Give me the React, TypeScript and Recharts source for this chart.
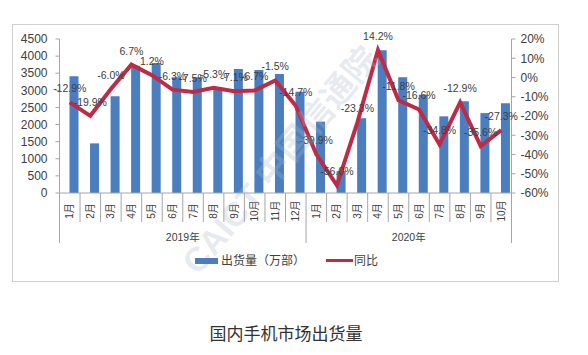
import { ComposedChart, Bar, Line, XAxis, YAxis, LabelList } from 'recharts';

// months on the category axis (2019.1 - 2020.10)
const months = [
  '1月', '2月', '3月', '4月', '5月', '6月', '7月', '8月', '9月', '10月', '11月', '12月',
  '1月', '2月', '3月', '4月', '5月', '6月', '7月', '8月', '9月', '10月',
];
const years = ['2019年', '2020年'];

// 出货量（万部）
const shipments = [
  3410, 1450, 2830, 3720, 3800, 3380, 3380, 3090, 3625, 3595, 3480, 2960,
  2085, 640, 2185, 4170, 3380, 2870, 2240, 2680, 2335, 2625,
];
// 同比 (%)
const yoy = [
  -12.9, -19.9, -6.0, 6.7, 1.2, -6.3, -7.5, -5.3, -7.1, -6.7, -1.5, -14.7,
  -39.9, -56.0, -23.3, 14.2, -11.8, -16.6, -34.8, -12.9, -35.6, -27.3,
];

const leftTicks = [0, 500, 1000, 1500, 2000, 2500, 3000, 3500, 4000, 4500];
const rightTicks = [-60, -50, -40, -30, -20, -10, 0, 10, 20];

const data = months.map((m, i) => ({ m, ship: shipments[i], yoy: yoy[i] }));

const FONT = "'Liberation Sans', Arial, 'Noto Sans CJK SC', sans-serif";
const TEXT = '#404040';
const AXIS = '#a6a6a6';
const BLUE = '#4a7ebf';
const RED = '#bf2b46';

const PLOT_L = 59.5;
const PLOT_R = 511.5;
const PLOT_B = 193;
const BW = (PLOT_R - PLOT_L) / months.length;

function MonthTick(props: { x?: number; payload?: { value: string; index: number } }) {
  const { x = 0, payload } = props;
  if (!payload) return null;
  const i = payload.index;
  const bigRight = i === 11 || i === months.length - 1;
  return (
    <g>
      <text
        x={x}
        y={211}
        transform={`rotate(-90, ${x}, 211)`}
        textAnchor="middle"
        dominantBaseline="central"
        fontSize={10}
        fontFamily={FONT}
        fill={TEXT}
      >
        {payload.value}
      </text>
      <line x1={x + BW / 2} x2={x + BW / 2} y1={PLOT_B} y2={bigRight ? 243 : 222} stroke={AXIS} />
      {i === 0 && (
        <>
          <line x1={x - BW / 2} x2={x - BW / 2} y1={PLOT_B} y2={243} stroke={AXIS} />
          <text x={x - BW / 2 + 6 * BW} y={237} textAnchor="middle" dominantBaseline="central"
            fontSize={10.5} fontFamily={FONT} fill={TEXT}>
            {years[0]}
          </text>
        </>
      )}
      {i === 12 && (
        <text x={x - BW / 2 + 5 * BW} y={237} textAnchor="middle" dominantBaseline="central"
          fontSize={10.5} fontFamily={FONT} fill={TEXT}>
          {years[1]}
        </text>
      )}
    </g>
  );
}

function PctLabel(props: { x?: number; y?: number; value?: number }) {
  const { x = 0, y = 0, value } = props;
  if (value === undefined) return null;
  return (
    <text x={x} y={y - 10} textAnchor="middle" fontSize={10.5} fontFamily={FONT} fill={TEXT}>
      {`${value.toFixed(1)}%`}
    </text>
  );
}

export default function App() {
  return (
    <div style={{ position: 'absolute', left: 0, top: 0, width: 588, height: 355, background: '#fff', fontFamily: FONT }}>
      <div
        style={{
          position: 'absolute', left: 12, top: 24, width: 547, height: 258,
          border: '1px solid #d0d0d0', boxSizing: 'border-box',
        }}
      />
      <div style={{ position: 'absolute', left: 0, top: 0 }}>
        <ComposedChart
          width={588}
          height={290}
          data={data}
          margin={{ top: 39, right: 0, bottom: 37, left: 0 }}
          barGap={0}
        >
          <XAxis
            dataKey="m"
            height={60}
            interval={0}
            axisLine={{ stroke: AXIS }}
            tickLine={false}
            tick={<MonthTick />}
          />
          <YAxis
            yAxisId="left"
            width={PLOT_L}
            domain={[0, 4500]}
            ticks={leftTicks}
            interval={0}
            axisLine={{ stroke: AXIS }}
            tickLine={{ stroke: AXIS }}
            tickSize={4}
            tickMargin={8}
            tick={{ fontSize: 12, fill: TEXT, fontFamily: FONT }}
          />
          <YAxis
            yAxisId="right"
            orientation="right"
            width={588 - PLOT_R}
            domain={[-60, 20]}
            ticks={rightTicks}
            interval={0}
            tickFormatter={(v: number) => `${v}%`}
            axisLine={{ stroke: AXIS }}
            tickLine={{ stroke: AXIS }}
            tickSize={4}
            tickMargin={5}
            tick={{ fontSize: 12, fill: TEXT, fontFamily: FONT, textAnchor: 'start' }}
          />
          {/* empty bar so the real bar sits a bit right of the category centre, as in the source */}
          <Bar dataKey="pad" yAxisId="left" barSize={9} fill="none" legendType="none" isAnimationActive={false} />
          <Bar dataKey="ship" yAxisId="left" name="出货量（万部）" barSize={9} fill={BLUE} isAnimationActive={false} />
          <Line
            dataKey="yoy"
            yAxisId="right"
            name="同比"
            stroke={RED}
            strokeWidth={4}
            dot={false}
            isAnimationActive={false}
          >
            <LabelList dataKey="yoy" content={<PctLabel />} />
          </Line>
        </ComposedChart>
      </div>

      {/* watermark */}
      <svg width={588} height={355} style={{ position: 'absolute', left: 0, top: 0, pointerEvents: 'none' }}>
        <text
          x={280}
          y={160}
          transform="rotate(-50, 280, 160)"
          textAnchor="middle"
          dominantBaseline="central"
          fontSize={34}
          fontWeight="bold"
          fontFamily={FONT}
          fill="rgba(170,185,200,0.28)"
        >
          CAICT 中国信通院
        </text>
      </svg>

      {/* legend */}
      <div style={{ position: 'absolute', left: 195, top: 258, width: 23, height: 6, background: BLUE }} />
      <div style={{ position: 'absolute', left: 221, top: 253, fontSize: 12, color: TEXT, lineHeight: '16px' }}>
        出货量（万部）
      </div>
      <div style={{ position: 'absolute', left: 326, top: 259, width: 27, height: 3, background: RED }} />
      <div style={{ position: 'absolute', left: 354, top: 253, fontSize: 12, color: TEXT, lineHeight: '16px' }}>
        同比
      </div>

      {/* caption */}
      <div
        style={{
          position: 'absolute', left: 0, width: 572, top: 323, textAlign: 'center',
          fontSize: 17, color: '#333', lineHeight: '24px',
        }}
      >
        国内手机市场出货量
      </div>
    </div>
  );
}
